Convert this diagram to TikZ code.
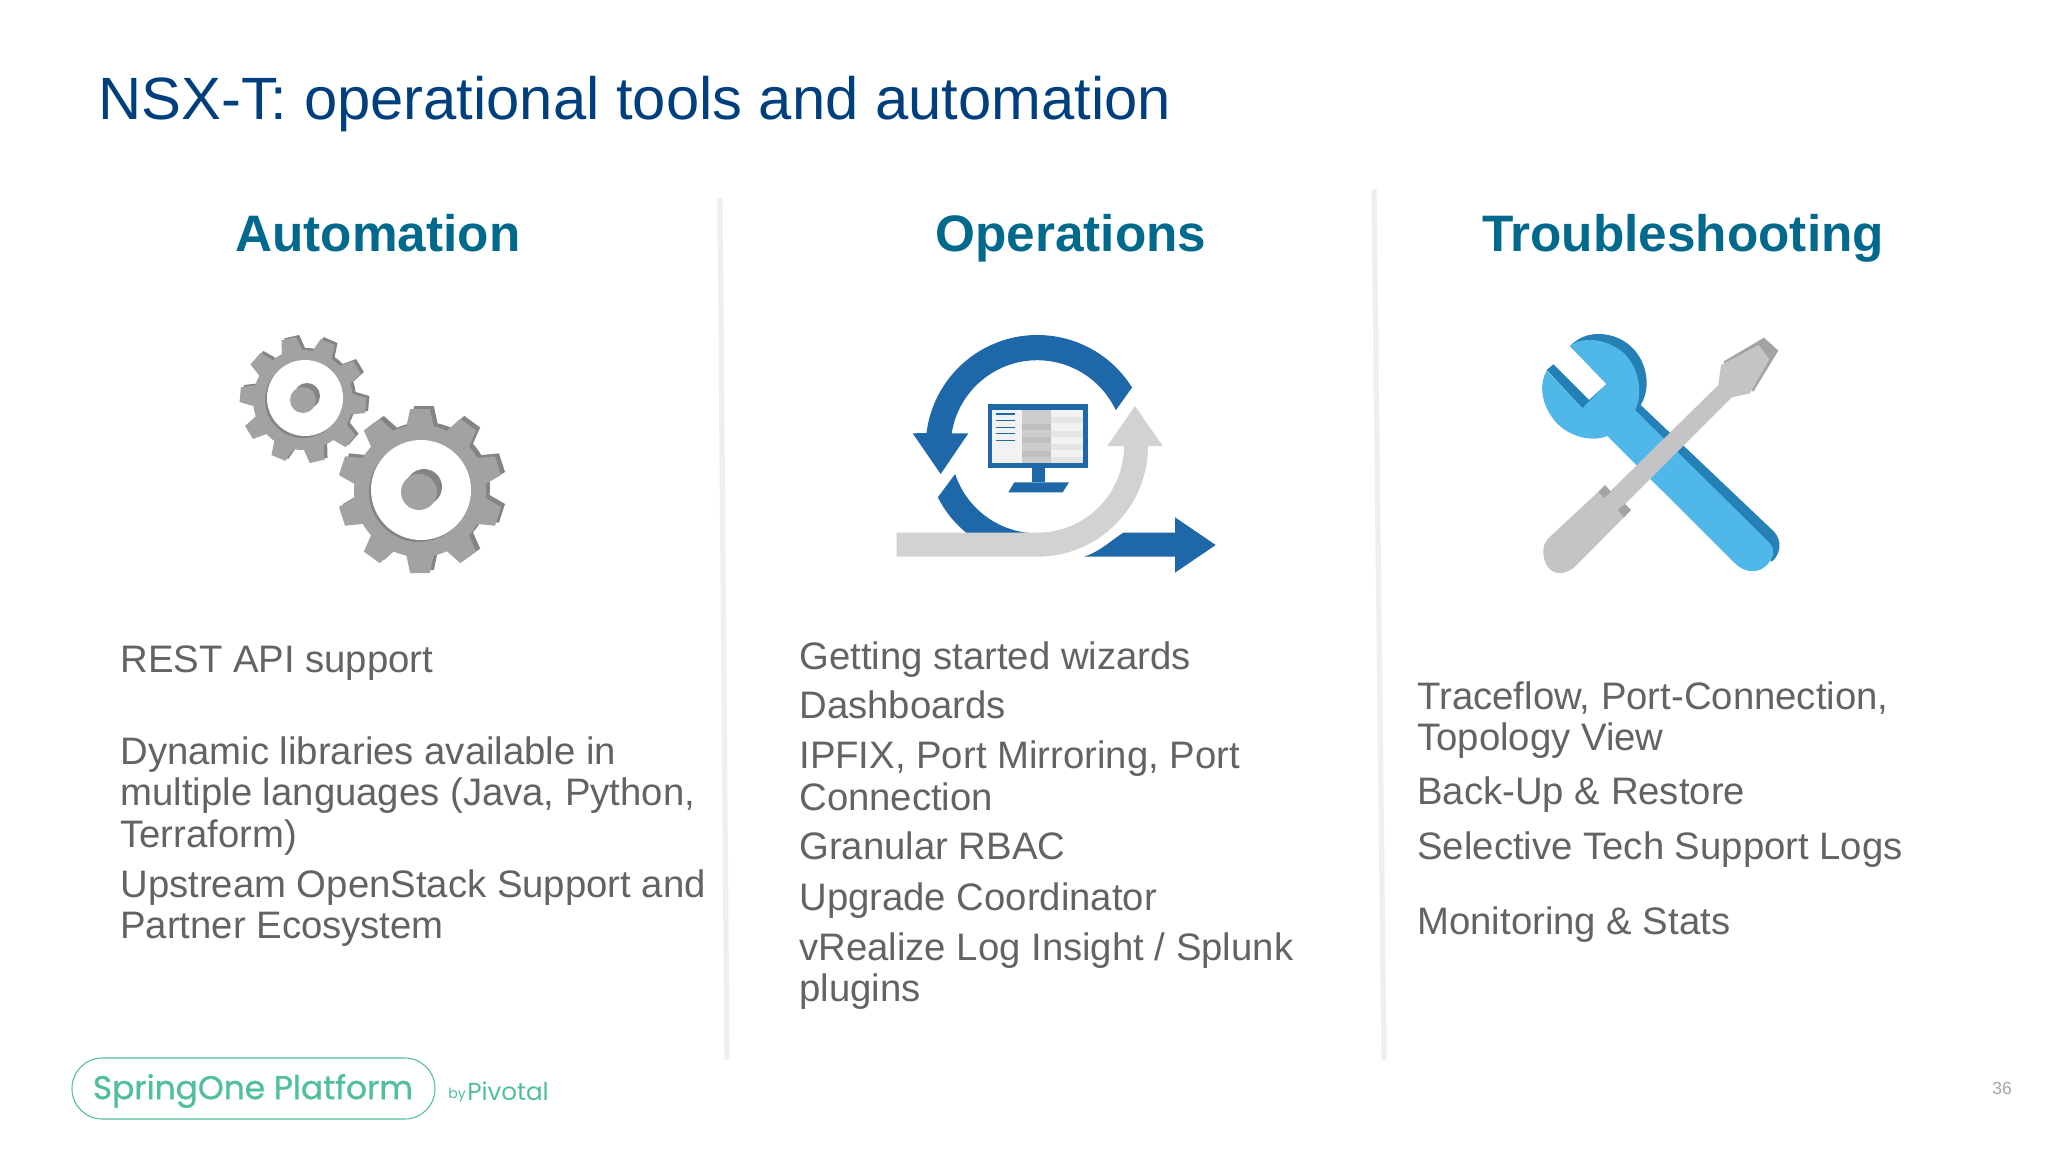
\documentclass[tikz,border=0pt]{standalone}
\usepackage{fontspec}
\setmainfont{Liberation Sans}
\newfontfamily\logofont[FakeBold=0.9]{Poppins}
\newfontfamily\logothin{Poppins}
\definecolor{titleblue}{HTML}{003F7D}
\definecolor{headteal}{HTML}{00698C}
\definecolor{bodygrey}{HTML}{626366}
\definecolor{gearlight}{HTML}{A1A2A4}
\definecolor{geardark}{HTML}{838486}
\definecolor{loopblue}{HTML}{1E67A8}
\definecolor{loopgrey}{HTML}{D1D2D4}
\definecolor{wrenchlight}{HTML}{50B7E9}
\definecolor{wrenchdark}{HTML}{2480B5}
\definecolor{drivergrey}{HTML}{C4C3C5}
\definecolor{driverdark}{HTML}{A3A2A5}
\definecolor{logogreen}{HTML}{50BE9F}
\definecolor{dividergrey}{HTML}{EFEFEF}
\tikzset{
	titletext/.style={anchor=west,inner sep=0pt,text=titleblue,font=\fontsize{34}{40}\selectfont},
	headtext/.style={anchor=base,inner sep=0pt,text=headteal,font=\fontsize{29.2}{34}\selectfont\bfseries},
	bodytext/.style={anchor=west,align=left,inner sep=0pt,text=bodygrey,font=\fontsize{21.8}{23.7}\selectfont},
	divider/.style={draw=dividergrey,line width=3pt}
}
% one gear: colour, centre, root radius, tip radius, turn of the first tooth
\def\gearshape[#1](#2)(#3:#4:#5){
	\fill[#1] (#2) circle (#3);
	\foreach \a in {0,36,...,324}
		\fill[#1,shift={(#2)},rotate=\a+#5] ({#3-3},{-0.17*#4}) -- (#4,{-0.12*#4}) -- (#4,{0.12*#4}) -- ({#3-3},{0.17*#4}) -- cycle;
}

\begin{document}
\begin{tikzpicture}[x=0.02cm,y=-0.02cm]
	%%%%% PAGE %%%%%
	\useasboundingbox[fill=white] (0,0) rectangle (2048,1152);
	
	\node[titletext] (title) at (98,104) {NSX-T: operational tools and automation};
	
	\draw[divider] (720,198) -- (727,1060);
	\draw[divider] (1374,189) -- (1384,1060);
	
	\node[headtext] (automation) at (378,252) {Automation};
	\node[headtext] (operations) at (1071,252) {Operations};
	\node[headtext] (troubleshooting) at (1683,252) {Troubleshooting};
	
	%%%%% GEARS %%%%%
	\gearshape[geardark](306,398)(50:63:67);
	\gearshape[gearlight](303,400)(50:63:67);
	\fill[geardark] (303,400) circle (38);
	\fill[white] (305,398) circle (38);
	\fill[geardark] (307,396) circle (13);
	\fill[gearlight] (303,400) circle (13);
	
	\gearshape[geardark](424,488)(66:82:90);
	\gearshape[gearlight](420,491)(66:82:90);
	\fill[geardark] (419,492) circle (50);
	\fill[white] (421,490) circle (50);
	\fill[geardark] (424,487) circle (18);
	\fill[gearlight] (419,492) circle (18);
	
	%%%%% LOOP %%%%%
	\begin{scope}[shift={(880,310)},scale=1/3]
		\fill[loopblue] ([shift={(-32:335)}]472,410) arc (-32:-173:335) -- (98,370) -- (182,492) -- (265,370) -- (215,370) arc (-171:-25:260) -- cycle;
		\fill[loopblue] ([shift={(153:335)}]472,410) arc (153:110:335) -- ([shift={(95:260)}]472,410) arc (95:161.6:260) -- cycle;
		\fill[loopgrey] (50,668) -- (472,668) arc (90:0:260) -- (682,408) -- (765,288) -- (848,408) -- (804,408) arc (0:90:332) -- (50,740) -- cycle;
		\fill[loopblue] (612,740) .. controls (660,725) and (695,690) .. (730,668) -- (885,668) -- (885,622) -- (1007,705) -- (885,788) -- (885,740) -- cycle;
		
		\fill[loopblue] (323,283) rectangle (623,473);
		\fill[loopblue] (455,473) rectangle (495,517);
		\fill[loopblue] (403,517) -- (567,517) -- (548,547) -- (385,547) -- cycle;
		\fill[black!5] (336,300) rectangle (608,460);
		\fill[black!20] (425,300) rectangle (513,460);
		\foreach \y in {322,362,402,442}
			\fill[black!10] (513,\y) rectangle (608,{\y+18});
		\foreach \y in {342,382,422}
			\fill[black!25] (425,\y) rectangle (513,{\y+18});
		\foreach \y in {312,331,353,371,392}
			\draw[loopblue,line width=0.8pt] (348,\y) -- (405,\y);
	\end{scope}
	
	%%%%% TOOLS %%%%%
	\begin{scope}[shift={(1520,310)},scale=1/3]
		\fill[wrenchdark] (150,108) .. controls (175,82) and (205,72) .. (235,72) .. controls (320,72) and (382,140) .. (380,225) .. controls (378,250) and (372,270) .. (362,285) -- (762,665) .. controls (785,690) and (785,730) .. (755,755) -- (400,400) -- (187,295) -- (80,180) -- (100,163) -- (207,270) -- (260,222) -- cycle;
		\fill[wrenchlight] (150,108) -- (260,222) -- (187,295) -- (80,182) .. controls (60,215) and (60,270) .. (95,320) .. controls (130,375) and (210,400) .. (262,378) -- (640,755) .. controls (670,790) and (725,800) .. (755,745) .. controls (765,725) and (760,710) .. (745,695) -- (345,300) .. controls (370,255) and (360,165) .. (300,120) .. controls (250,85) and (185,80) .. (150,108) -- cycle;
		
		\fill[driverdark] (610,155) -- (732,83) -- (775,122) -- (700,245) -- cycle;
		\fill[drivergrey] (595,225) -- (603,165) -- (716,105) -- (748,148) -- (690,250) -- (635,262) -- (312,585) -- (312,622) -- (165,770) .. controls (130,800) and (90,795) .. (75,755) .. controls (65,725) and (70,700) .. (85,685) -- (235,545) -- (270,545) -- cycle;
		\fill[driverdark] (235,545) -- (255,525) -- (273,545) -- (253,565) -- cycle;
		\fill[driverdark] (293,600) -- (315,582) -- (333,600) -- (312,622) -- cycle;
	\end{scope}
	
	%%%%% TEXT %%%%%
	\node[bodytext] (rest) at (120,663) {REST API support};
	\node[bodytext] (dynamic) at (120,796) {Dynamic libraries available in\\multiple languages (Java, Python,\\Terraform)};
	\node[bodytext] (upstream) at (120,908) {Upstream OpenStack Support and\\Partner Ecosystem};
	
	\node[bodytext] (getting) at (799,660) {Getting started wizards};
	\node[bodytext] (dashboards) at (799,705) {Dashboards};
	\node[bodytext] (ipfix) at (799,776) {IPFIX, Port Mirroring, Port\\Connection};
	\node[bodytext] (rbac) at (799,846) {Granular RBAC};
	\node[bodytext] (upgrade) at (799,901) {Upgrade Coordinator};
	\node[bodytext] (vrealize) at (799,971) {vRealize Log Insight / Splunk\\plugins};
	
	\node[bodytext] (traceflow) at (1417,720) {Traceflow, Port-Connection,\\Topology View};
	\node[bodytext] (backup) at (1417,795) {Back-Up \& Restore};
	\node[bodytext] (selective) at (1417,850) {Selective Tech Support Logs};
	\node[bodytext] (monitoring) at (1417,925) {Monitoring \& Stats};
	
	%%%%% FOOTER %%%%%
	\draw[logogreen,line width=0.6pt,rounded corners=17.2pt] (72,1058) rectangle (435,1119);
	\node[text=logogreen,font=\logofont\fontsize{18.7}{22}\selectfont] (spring) at (253,1091) {SpringOne Platform};
	\node[text=logogreen,font=\logothin\fontsize{8}{10}\selectfont] (by) at (457,1095) {by};
	\node[text=logogreen,font=\logothin\fontsize{14}{16}\selectfont] (pivotal) at (508,1091) {Pivotal};
	\node[text=black!35,font=\fontsize{10}{12}\selectfont] (pagenum) at (2002,1088) {36};
\end{tikzpicture}
\end{document}
